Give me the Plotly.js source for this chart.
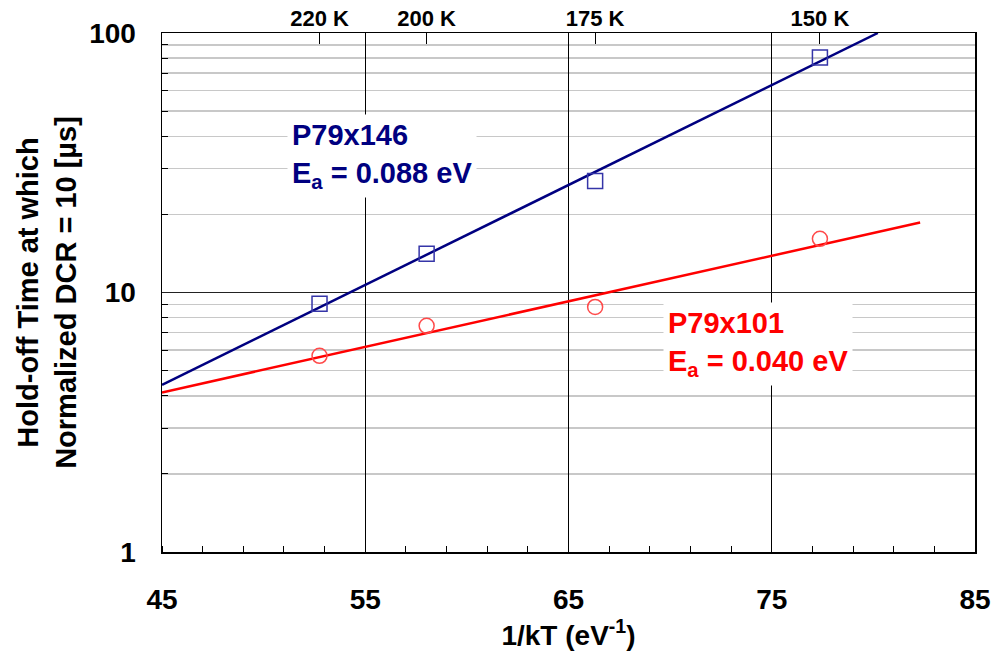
<!DOCTYPE html>
<html>
<head>
<meta charset="utf-8">
<script src="https://cdn.plot.ly/plotly-3.0.1.min.js"></script>
<style>html,body{margin:0;padding:0;background:#fff;}#chart{width:1002px;height:656px;}</style>
</head>
<body>
<div id="chart"></div>
<script>
// 1/kT values (eV^-1) of the measurement temperatures
const invKT = [52.75, 58.02, 66.31, 77.37];
const tempLabels = ['220 K', '200 K', '175 K', '150 K'];
// Hold-off time (µs) at which normalized DCR = 10
const holdoff146 = [9.05, 14.1, 26.9, 80.5];
const holdoff101 = [5.70, 7.44, 8.8, 16.1];
// Arrhenius fit lines (end points)
const fit146X = [45, 80.22];
const fit146Y = [4.41, 100];
const fit101X = [45, 82.3];
const fit101Y = [4.12, 18.6];
const xTickVals = [45, 55, 65, 75, 85];
const yTickVals = [1, 10, 100];
const yMinorVals = [2,3,4,5,6,7,8,9,20,30,40,50,60,70,80,90];

const BLUE = '#000080';
const RED = '#ff0000';
const FONT = 'Liberation Sans, Arial, sans-serif';

const traces = [
  {x: fit146X, y: fit146Y, mode: 'lines', line: {color: BLUE, width: 2.5}, hoverinfo: 'skip'},
  {x: fit101X, y: fit101Y, mode: 'lines', line: {color: RED, width: 2.5}, hoverinfo: 'skip'},
  {x: invKT, y: holdoff146, mode: 'markers', marker: {symbol: 'square-open', size: 15, color: '#3535a8', line: {width: 1.5}}},
  {x: invKT, y: holdoff101, mode: 'markers', marker: {symbol: 'circle-open', size: 15, color: '#ff4a4a', line: {width: 1.5}}},
  // invisible trace so the top (temperature) axis is drawn
  {x: invKT, y: holdoff146, xaxis: 'x2', mode: 'markers', marker: {opacity: 0}, hoverinfo: 'skip'}
];

const layout = {
  width: 1002, height: 656,
  margin: {l: 162, r: 27, t: 33, b: 104},
  paper_bgcolor: '#fff', plot_bgcolor: '#fff',
  showlegend: false,
  font: {family: FONT, color: '#000'},
  xaxis: {
    range: [45, 85], tickmode: 'array', tickvals: xTickVals, ticktext: xTickVals.map(String),
    showgrid: true, gridcolor: '#000', gridwidth: 1,
    zeroline: false, showline: true, linecolor: '#000', linewidth: 1.5, mirror: true,
    ticks: '', ticklabelstandoff: 22,
    tickfont: {size: 28, weight: 'bold', family: FONT},
    minor: {dtick: 2, tick0: 45, ticks: 'inside', ticklen: 6, tickcolor: '#000', tickwidth: 1, showgrid: false},
    title: {text: '1/kT (eV<sup>-1</sup>)', font: {size: 28, weight: 'bold', family: FONT}, standoff: 10}
  },
  xaxis2: {
    overlaying: 'x', side: 'top', range: [45, 85],
    tickmode: 'array', tickvals: invKT, ticktext: tempLabels,
    ticks: 'inside', ticklen: 11, tickcolor: '#000', tickwidth: 1,
    showgrid: false, zeroline: false, showline: false,
    tickfont: {size: 22, weight: 'bold', family: FONT}, ticklabelstandoff: 2
  },
  yaxis: {
    type: 'log', range: [0, 2], tickmode: 'array', tickvals: yTickVals, ticktext: yTickVals.map(String),
    showgrid: true, gridcolor: '#222', gridwidth: 1.5,
    zeroline: false, showline: true, linecolor: '#000', linewidth: 1.5, mirror: true,
    ticks: '', ticklabelstandoff: 19,
    tickfont: {size: 28, weight: 'bold', family: FONT},
    minor: {tickmode: 'array', tickvals: yMinorVals, ticks: 'inside', ticklen: 6, tickcolor: '#000', tickwidth: 1,
            showgrid: true, gridcolor: '#c8c8c8', gridwidth: 1.5},
    title: {text: 'Hold-off Time at which<br>Normalized DCR = 10 [µs]', font: {size: 29, weight: 'bold', family: FONT}, standoff: 4}
  },
  annotations: [
    {xref: 'paper', yref: 'paper', x: (287 - 162) / 813, y: (552 - 114) / 519, xanchor: 'left', yanchor: 'top',
     align: 'left', showarrow: false, bgcolor: '#fff', borderpad: 4,
     text: 'P79x146<br>E<sub>a</sub> = 0.088 eV', font: {size: 29, weight: 'bold', color: BLUE, family: FONT}},
    {xref: 'paper', yref: 'paper', x: (663 - 162) / 813, y: (552 - 302) / 519, xanchor: 'left', yanchor: 'top',
     align: 'left', showarrow: false, bgcolor: '#fff', borderpad: 4,
     text: 'P79x101<br>E<sub>a</sub> = 0.040 eV', font: {size: 29, weight: 'bold', color: RED, family: FONT}}
  ]
};

Plotly.newPlot('chart', traces, layout, {displayModeBar: false, staticPlot: true});
</script>
</body>
</html>
